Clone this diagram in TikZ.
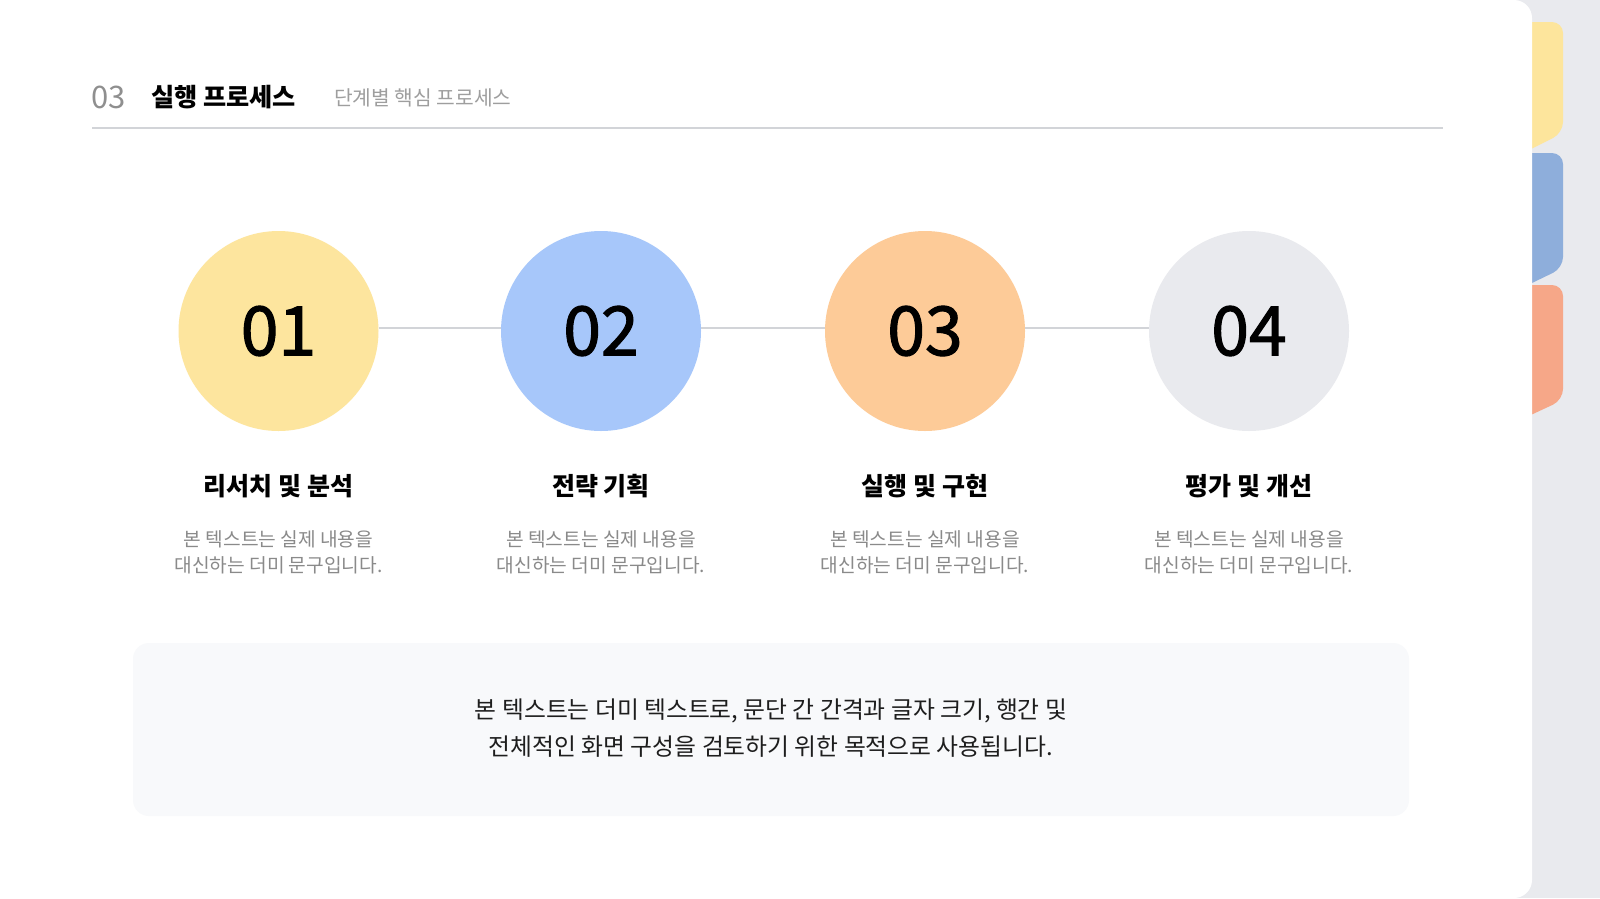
\documentclass[tikz,border=0pt]{standalone}
\usepackage{fontspec}
\setmainfont{Noto Sans CJK KR}
\newfontfamily\numfont[FakeBold=1.6]{Noto Sans CJK KR}
\definecolor{bggray}{HTML}{E9EAEE}
\definecolor{tabyellow}{HTML}{FDE59C}
\definecolor{tabblue}{HTML}{8EAEDB}
\definecolor{taborange}{HTML}{F6A788}
\definecolor{cyellow}{HTML}{FDE59E}
\definecolor{cblue}{HTML}{A7C7FA}
\definecolor{corange}{HTML}{FDCB98}
\definecolor{cgray}{HTML}{E9EAEE}
\definecolor{boxfill}{HTML}{F8F9FB}
\definecolor{rulegray}{HTML}{D2D4D8}
\definecolor{txtgray}{HTML}{8A8A8A}
\definecolor{hdrgray}{HTML}{8F8F8F}
\definecolor{subgray}{HTML}{9E9E9E}
\definecolor{darktxt}{HTML}{1E1E1E}
\begin{document}
\begin{tikzpicture}[x=1pt,y=-1pt,
  stepcircle/.style={circle,minimum size=200pt,inner sep=0pt,
    font=\fontsize{68}{72}\numfont,text=black},
  steptitle/.style={font=\fontsize{25}{30}\selectfont\bfseries,text=black,anchor=center},
  stepdesc/.style={font=\fontsize{19.2}{26}\selectfont,text=txtgray,align=center,anchor=center},
  linkline/.style={draw=rulegray,line width=1.2pt},
  tabfill/.style={rounded corners=11pt}]
\useasboundingbox (0,0) rectangle (1600,898);
\fill[bggray] (0,0) rectangle (1600,898);
% tabs
\fill[tabyellow,tabfill] (1505,22) -- (1563,22) -- (1563,133) -- (1505,162) -- cycle;
\fill[tabblue,tabfill] (1505,153) -- (1563,153) -- (1563,268) -- (1505,296) -- cycle;
\fill[taborange,tabfill] (1505,285) -- (1563,285) -- (1563,400) -- (1505,427) -- cycle;
% card
\fill[white,rounded corners=18pt] (-30,0) rectangle (1532,898);
% header
\node[anchor=base west,inner sep=0pt,text=hdrgray,font=\fontsize{31}{34}\selectfont] (hnum) at (91,108) {03};
\node[anchor=base west,inner sep=0pt,text=black,font=\fontsize{25.2}{28}\selectfont\bfseries] (htitle) at (151,106) {실행 프로세스};
\node[anchor=base west,inner sep=0pt,text=subgray,font=\fontsize{20.3}{22}\selectfont] (hsub) at (334,105) {단계별 핵심 프로세스};
\coordinate (rl) at (92,128);
\coordinate (rr) at (1443,128);
\draw[rulegray,line width=1.3pt] (rl) -- (rr);
% circles
\node[stepcircle,fill=cyellow] (c1) at (278.5,331) {01};
\node[stepcircle,fill=cblue] (c2) at (601,331) {02};
\node[stepcircle,fill=corange] (c3) at (925,331) {03};
\node[stepcircle,fill=cgray] (c4) at (1249,331) {04};
\draw[linkline] (c1.east |- 0,328) -- (c2.west |- 0,328);
\draw[linkline] (c2.east |- 0,328) -- (c3.west |- 0,328);
\draw[linkline] (c3.east |- 0,328) -- (c4.west |- 0,328);
% titles
\node[steptitle] (t1) at (278.5,486) {리서치 및 분석};
\node[steptitle] (t2) at (601,486) {전략 기획};
\node[steptitle] (t3) at (925,486) {실행 및 구현};
\node[steptitle] (t4) at (1249,486) {평가 및 개선};
% descriptions
\node[stepdesc] (d1) at (278.5,552) {본 텍스트는 실제 내용을\\대신하는 더미 문구입니다.};
\node[stepdesc] (d2) at (601,552) {본 텍스트는 실제 내용을\\대신하는 더미 문구입니다.};
\node[stepdesc] (d3) at (925,552) {본 텍스트는 실제 내용을\\대신하는 더미 문구입니다.};
\node[stepdesc] (d4) at (1249,552) {본 텍스트는 실제 내용을\\대신하는 더미 문구입니다.};
% bottom box
\fill[boxfill,rounded corners=16pt] (133,643) rectangle (1409,816);
\node[align=center,text=darktxt,font=\fontsize{23.8}{37.5}\selectfont] (note) at (771,728) {본 텍스트는 더미 텍스트로, 문단 간 간격과 글자 크기, 행간 및\\전체적인 화면 구성을 검토하기 위한 목적으로 사용됩니다.};
\end{tikzpicture}
\end{document}
